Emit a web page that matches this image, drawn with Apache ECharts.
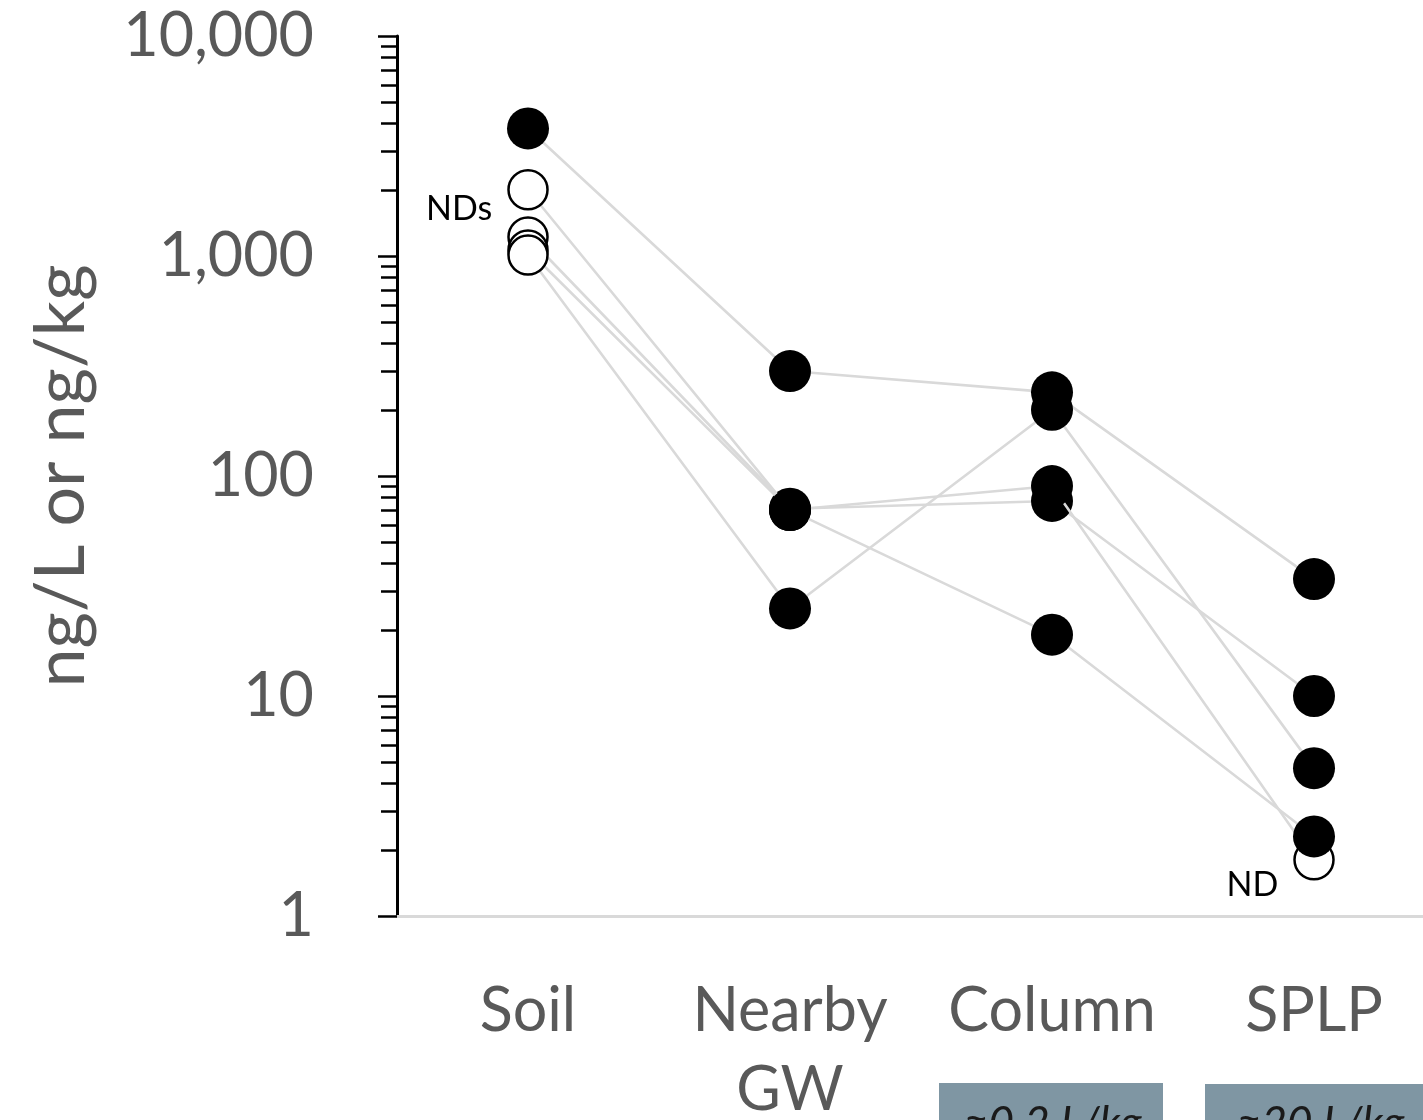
<!DOCTYPE html>
<html>
<head>
<meta charset="utf-8">
<script src="https://cdn.jsdelivr.net/npm/echarts@6/dist/echarts.min.js"></script>
<style>
html,body{margin:0;padding:0;background:#fff;overflow:hidden;width:1423px;height:1120px;}
#chart{position:absolute;left:0;top:0;width:1423px;height:1120px;}
</style>
</head>
<body>
<div id="chart"></div>
<script>
// ---- data ----
const categories = ['Soil', 'Nearby\nGW', 'Column', 'SPLP'];
const yMin = 1;
const yMax = 10000;
// samples (ng/L or ng/kg), one value per category
const sampleA = [3800, 300, 240, 34];
const sampleC = [1220, 71, 77, 10];
const sampleB = [2000, 70, 90, 1.8];
const sampleD = [1065, 70, 19, 2.3];
const sampleE = [1010, 25, 200, 4.7];
// non-detect flags (1 = ND, drawn as open circle)
const ndA = [0, 0, 0, 0];
const ndC = [1, 0, 0, 0];
const ndB = [1, 0, 0, 1];
const ndD = [1, 0, 0, 0];
const ndE = [1, 0, 0, 0];
// point annotations for sample B
const labelsB = ['NDs', '', '', 'ND'];
// leaching ratio notes under Column / SPLP
const ratioNotes = ['≈0.2 L/kg', '≈20 L/kg'];

const FONT = 'Lato, "Open Sans", sans-serif';

function makeSeries(name, values, nd, labels, z) {
  return {
    name: name,
    type: 'line',
    z: z,
    symbol: 'circle',
    symbolSize: 42,
    lineStyle: { color: '#d9d9d9', width: 2.6 },
    emphasis: { disabled: true },
    silent: true,
    data: values.map(function (v, i) {
      const item = { value: v };
      if (nd[i]) {
        item.symbolSize = 39;
        item.itemStyle = { color: '#ffffff', borderColor: '#000000', borderWidth: 2.5 };
      } else {
        item.itemStyle = { color: '#000000', borderWidth: 0 };
      }
      if (labels && labels[i]) {
        item.label = {
          show: true,
          formatter: labels[i],
          position: 'left',
          distance: 15,
          offset: i === 0 ? [0, 19] : [0, 25],
          color: '#000000',
          fontFamily: FONT,
          fontSize: 34
        };
      }
      return item;
    })
  };
}

const chart = echarts.init(document.getElementById('chart'), null, { renderer: 'canvas', width: 1423, height: 1120 });
chart.setOption({
  animation: false,
  backgroundColor: '#ffffff',
  grid: { left: 397, top: 36, width: 1048, height: 880, containLabel: false, outerBoundsMode: 'none' },
  xAxis: {
    type: 'category',
    data: categories,
    boundaryGap: true,
    axisLine: { show: true, lineStyle: { color: '#d9d9d9', width: 3 } },
    axisTick: { show: false },
    axisLabel: {
      interval: 0,
      margin: 56,
      color: '#595959',
      fontFamily: FONT,
      fontSize: 61,
      lineHeight: 79
    },
    splitLine: { show: false }
  },
  yAxis: {
    type: 'log',
    logBase: 10,
    min: yMin,
    max: yMax,
    name: 'ng/L or ng/kg',
    nameLocation: 'middle',
    nameRotate: 90,
    nameGap: 301,
    nameTextStyle: { color: '#595959', fontFamily: FONT, fontSize: 70 },
    axisLine: { show: true, lineStyle: { color: '#000000', width: 3 } },
    axisTick: { show: true, inside: false, length: 19, lineStyle: { color: '#000000', width: 2.5 } },
    minorTick: { show: true, splitNumber: 9, length: 16, lineStyle: { color: '#000000', width: 2.5 } },
    axisLabel: {
      margin: 83,
      color: '#595959',
      fontFamily: FONT,
      fontSize: 61,
      formatter: function (v) { return Number(v).toLocaleString('en-US'); }
    },
    splitLine: { show: false },
    minorSplitLine: { show: false }
  },
  series: [
    makeSeries('A', sampleA, ndA, null, 2),
    makeSeries('C', sampleC, ndC, null, 3),
    makeSeries('B', sampleB, ndB, labelsB, 4),
    makeSeries('D', sampleD, ndD, null, 5),
    makeSeries('E', sampleE, ndE, null, 6)
  ],
  graphic: [
    { type: 'rect', left: 939, top: 1083, shape: { width: 224, height: 60 }, style: { fill: '#7f96a3' }, silent: true },
    { type: 'rect', left: 1205, top: 1084, shape: { width: 240, height: 60 }, style: { fill: '#7f96a3' }, silent: true },
    { type: 'text', left: 963, top: 1102, style: { text: ratioNotes[0], fill: '#1a1a1a', font: 'italic 44px ' + FONT }, silent: true },
    { type: 'text', left: 1236, top: 1102, style: { text: ratioNotes[1], fill: '#1a1a1a', font: 'italic 44px ' + FONT }, silent: true }
  ]
});
</script>
</body>
</html>
